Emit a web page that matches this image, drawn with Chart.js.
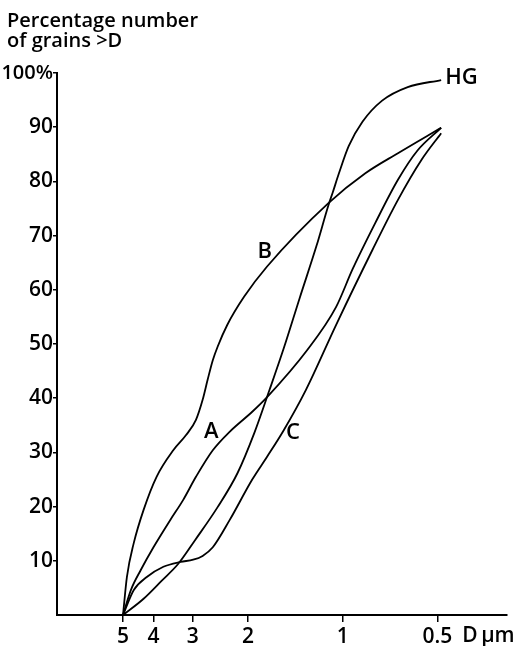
<!DOCTYPE html>
<html><head><meta charset="utf-8">
<style>html,body{margin:0;padding:0;background:#fff}#wrap{width:520px;height:646px;position:relative}</style>
<script src="https://cdn.jsdelivr.net/npm/chart.js@4"></script>
</head><body><div id="wrap"><canvas id="c" width="520" height="646"></canvas></div>
<script>
// Tick values
const xTicks = [5, 4, 3, 2, 1, 0.5];
const yTicks = [10, 20, 30, 40, 50, 60, 70, 80, 90, 100];
const titleLines = ['Percentage number', 'of grains >D'];
const unitLabel = 'D\u2009\u00b5m';

// Curve A
const dA = [5, 4.72, 4.39, 4.00, 3.54, 3.22, 2.93, 2.59, 2.29, 1.94, 1.74, 1.30, 1.05, 0.93, 0.788, 0.667, 0.578, 0.486];
const pA = [0, 4.6, 8.3, 12.5, 17.5, 21.2, 25.5, 30.4, 33.8, 37.5, 40.2, 48.8, 56.8, 63.8, 72.3, 80.3, 85.7, 89.9];
// Curve B
const dB = [5, 4.86, 4.62, 4.30, 3.91, 3.46, 3.15, 2.93, 2.79, 2.69, 2.59, 2.50, 2.33, 2.06, 1.74, 1.11, 0.847, 0.667, 0.486];
const pB = [0, 7.0, 13.3, 19.4, 25.5, 30.4, 33.2, 36.0, 39.7, 43.4, 47.0, 49.5, 53.5, 58.7, 64.3, 76.0, 81.5, 85.2, 89.9];
// Curve C
const dC = [5, 4.62, 4.20, 3.72, 3.28, 2.99, 2.79, 2.59, 2.29, 1.94, 1.74, 1.54, 1.31, 1.05, 0.805, 0.667, 0.561, 0.486];
const pC = [0, 4.6, 7.0, 8.9, 9.8, 10.2, 10.9, 12.5, 17.5, 25.0, 29.2, 34.1, 41.5, 53.5, 67.3, 76.6, 84.0, 88.9];
// Curve HG
const dHG = [5, 4.30, 3.77, 3.34, 2.95, 2.50, 2.16, 1.91, 1.71, 1.54, 1.37, 1.21, 1.11, 1.075, 1.029, 0.957, 0.865, 0.749, 0.621, 0.486];
const pHG = [0, 3.0, 6.3, 9.4, 13.8, 19.9, 26.2, 33.6, 41.5, 49.2, 58.5, 68.2, 75.6, 78.0, 81.4, 86.5, 91.0, 94.9, 97.4, 98.7];

// Curve name labels (text + data position)
const curveNames = ['A', 'B', 'C', 'HG'];
const nameD = [2.62, 1.77, 1.44, 0.472];
const nameP = [33.8, 67.0, 33.6, 99.1];
const nameAlign = ['center', 'center', 'center', 'left'];

const FONT = '"Open Sans", "DejaVu Sans", sans-serif';
const toPts = (d, p) => d.map((v, i) => ({x: v, y: p[i]}));
const ds = (d, p) => ({data: toPts(d, p), borderColor: '#000', borderWidth: 1.8, pointRadius: 0, fill: false, cubicInterpolationMode: 'monotone'});

const textPlugin = {
  id: 'txt',
  afterDraw(chart) {
    const {ctx, scales: {x, y}, chartArea} = chart;
    ctx.save();
    ctx.fillStyle = '#000';
    ctx.font = '600 20px ' + FONT;
    ctx.textAlign = 'left';
    ctx.textBaseline = 'alphabetic';
    ctx.fillText(titleLines[0], 7, 27);
    ctx.fillText(titleLines[1], 7, 47);
    ctx.font = '600 22px ' + FONT;
    ctx.textBaseline = 'middle';
    curveNames.forEach((t, i) => {
      ctx.textAlign = nameAlign[i];
      ctx.fillText(t, x.getPixelForValue(nameD[i]), y.getPixelForValue(nameP[i]));
    });
    ctx.font = '600 21px ' + FONT;
    ctx.textAlign = 'left';
    ctx.fillText(unitLabel, x.getPixelForValue(0.5) + 25, chartArea.bottom + 21);
    ctx.restore();
  }
};

new Chart(document.getElementById('c').getContext('2d'), {
  type: 'line',
  data: {datasets: [ds(dA, pA), ds(dB, pB), ds(dC, pC), ds(dHG, pHG)]},
  options: {
    responsive: false, animation: false, devicePixelRatio: 1,
    layout: {padding: {top: 73, right: 13, left: 0, bottom: 0}},
    plugins: {legend: {display: false}, tooltip: {enabled: false}},
    scales: {
      x: {
        type: 'logarithmic', reverse: true, min: 0.3152, max: 8.11,
        afterBuildTicks: s => { s.ticks = xTicks.map(v => ({value: v})); },
        afterFit: s => { s.height = 31; },
        grid: {drawOnChartArea: false, drawTicks: true, tickLength: 7, color: '#000', lineWidth: 1.5},
        border: {display: true, color: '#000', width: 2},
        ticks: {autoSkip: false, maxRotation: 0, padding: 2, color: '#000',
          font: {family: FONT, size: 21, weight: '600'},
          callback: v => String(v)}
      },
      y: {
        type: 'linear', min: 0, max: 100,
        afterBuildTicks: s => { s.ticks = yTicks.map(v => ({value: v})); },
        afterFit: s => { s.width = 57; },
        grid: {drawOnChartArea: false, drawTicks: true, tickLength: 4, color: '#000', lineWidth: 1.5},
        border: {display: true, color: '#000', width: 2},
        ticks: {padding: 0, color: '#000',
          font: c => ({family: FONT, size: (c.tick && c.tick.value === 100) ? 20 : 21, weight: '600'}),
          callback: v => v === 100 ? '100%' : String(v)}
      }
    }
  },
  plugins: [textPlugin]
});
</script></body></html>
